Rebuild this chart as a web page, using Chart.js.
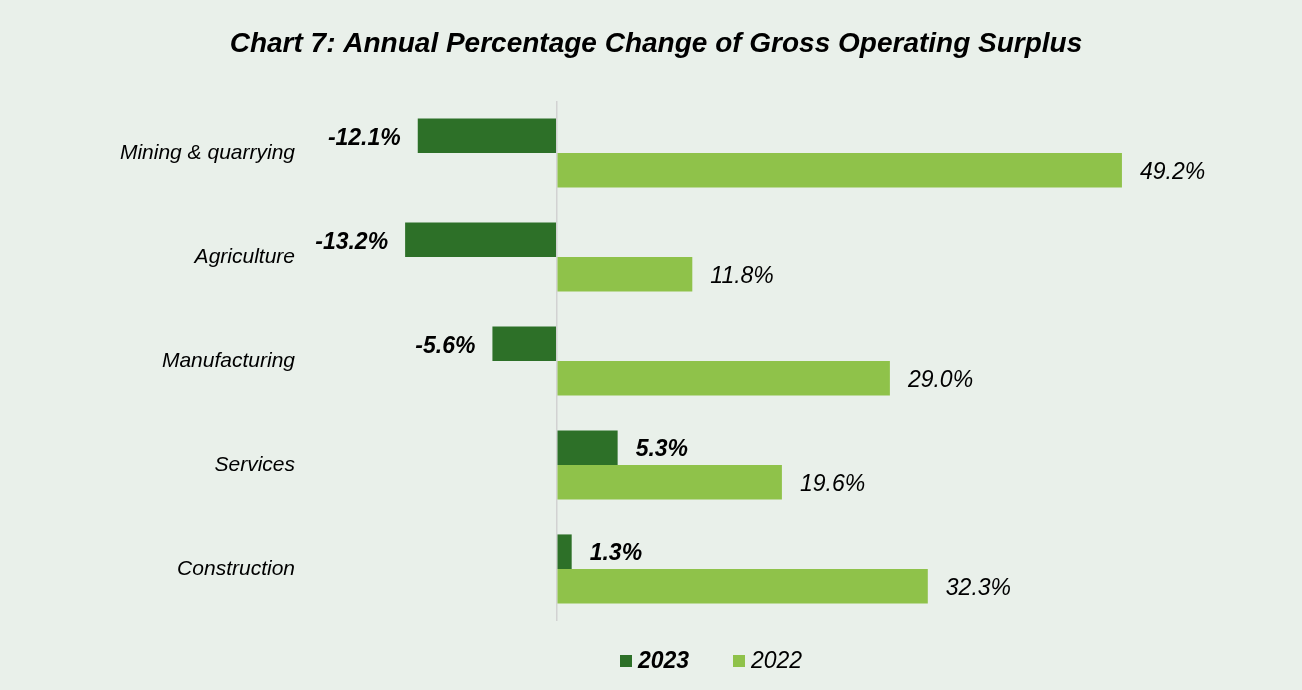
<!DOCTYPE html>
<html>
<head>
<meta charset="utf-8">
<script src="https://cdn.jsdelivr.net/npm/chart.js@4.4.1/dist/chart.umd.min.js"></script>
<style>
  html, body { margin: 0; padding: 0; background: #E9F0EA; }
  #wrap { width: 1302px; height: 690px; position: relative; }
</style>
</head>
<body>
<div id="wrap"><canvas id="myChart"></canvas></div>
<script>
var titleText = 'Chart 7: Annual Percentage Change of Gross Operating Surplus';
var categories = ['Mining & quarrying', 'Agriculture', 'Manufacturing', 'Services', 'Construction'];
var values2023 = [-12.1, -13.2, -5.6, 5.3, 1.3];
var values2022 = [49.2, 11.8, 29.0, 19.6, 32.3];

var FONT = '"Liberation Sans", Arial, sans-serif';
var DARK = '#2D7028';
var LIGHT = '#8FC24A';

// background, title, value labels and the legend are drawn here
var decorations = {
    id: 'decorations',
    beforeDraw: function (chart) {
        var ctx = chart.ctx;
        ctx.save();
        ctx.fillStyle = '#E9F0EA';
        ctx.fillRect(0, 0, chart.width, chart.height);
        ctx.restore();
    },
    afterDatasetsDraw: function (chart) {
        var ctx = chart.ctx;
        ctx.save();
        ctx.textBaseline = 'middle';
        ctx.fillStyle = '#000';
        chart.data.datasets.forEach(function (ds, i) {
            var meta = chart.getDatasetMeta(i);
            meta.data.forEach(function (bar, j) {
                var v = ds.data[j];
                ctx.font = (i === 0 ? 'italic bold ' : 'italic ') + '23px ' + FONT;
                var txt = v.toFixed(1) + '%';
                if (v >= 0) {
                    ctx.textAlign = 'left';
                    ctx.fillText(txt, bar.x + 18, bar.y + 2);
                } else {
                    ctx.textAlign = 'right';
                    ctx.fillText(txt, bar.x - 17, bar.y + 3);
                }
            });
        });
        ctx.restore();
    },
    afterDraw: function (chart) {
        var ctx = chart.ctx;
        ctx.save();
        ctx.fillStyle = '#000';
        ctx.textBaseline = 'middle';
        ctx.textAlign = 'center';
        ctx.font = 'italic bold 28px ' + FONT;
        ctx.fillText(titleText, 656, 44);

        // legend
        var items = [
            {text: chart.data.datasets[0].label, color: DARK, bold: true, x: 620},
            {text: chart.data.datasets[1].label, color: LIGHT, bold: false, x: 733}
        ];
        ctx.textAlign = 'left';
        items.forEach(function (it) {
            ctx.fillStyle = it.color;
            ctx.fillRect(it.x, 655, 12, 12);
            ctx.fillStyle = '#000';
            ctx.font = (it.bold ? 'italic bold ' : 'italic ') + '23px ' + FONT;
            ctx.fillText(it.text, it.x + 18, 662);
        });
        ctx.restore();
    }
};

var myChart = new Chart(document.getElementById('myChart').getContext('2d'), {
    type: 'bar',
    data: {
        labels: categories,
        datasets: [{
            label: '2023',
            data: values2023,
            backgroundColor: DARK,
            barPercentage: 1,
            categoryPercentage: 0.665
        }, {
            label: '2022',
            data: values2022,
            backgroundColor: LIGHT,
            barPercentage: 1,
            categoryPercentage: 0.665
        }]
    },
    options: {
        indexAxis: 'y',
        responsive: true,
        maintainAspectRatio: false,
        animation: false,
        layout: {
            padding: {top: 101, bottom: 69, left: 0, right: 56}
        },
        scales: {
            x: {
                min: -20,
                max: 60,
                ticks: {display: false, stepSize: 20},
                border: {display: false},
                grid: {
                    drawTicks: false,
                    lineWidth: 1.5,
                    color: function (c) {
                        return c.tick && c.tick.value === 0 ? '#D2D2D2' : 'rgba(0,0,0,0)';
                    }
                },
                afterFit: function (scale) { scale.height = 0; }
            },
            y: {
                ticks: {
                    color: '#000',
                    padding: 32,
                    font: {family: FONT, size: 21, style: 'italic'}
                },
                border: {display: false},
                grid: {display: false, drawTicks: false},
                afterFit: function (scale) { scale.width = 327; }
            }
        },
        plugins: {
            legend: {display: false},
            tooltip: {enabled: false}
        }
    },
    plugins: [decorations]
});
</script>
</body>
</html>
